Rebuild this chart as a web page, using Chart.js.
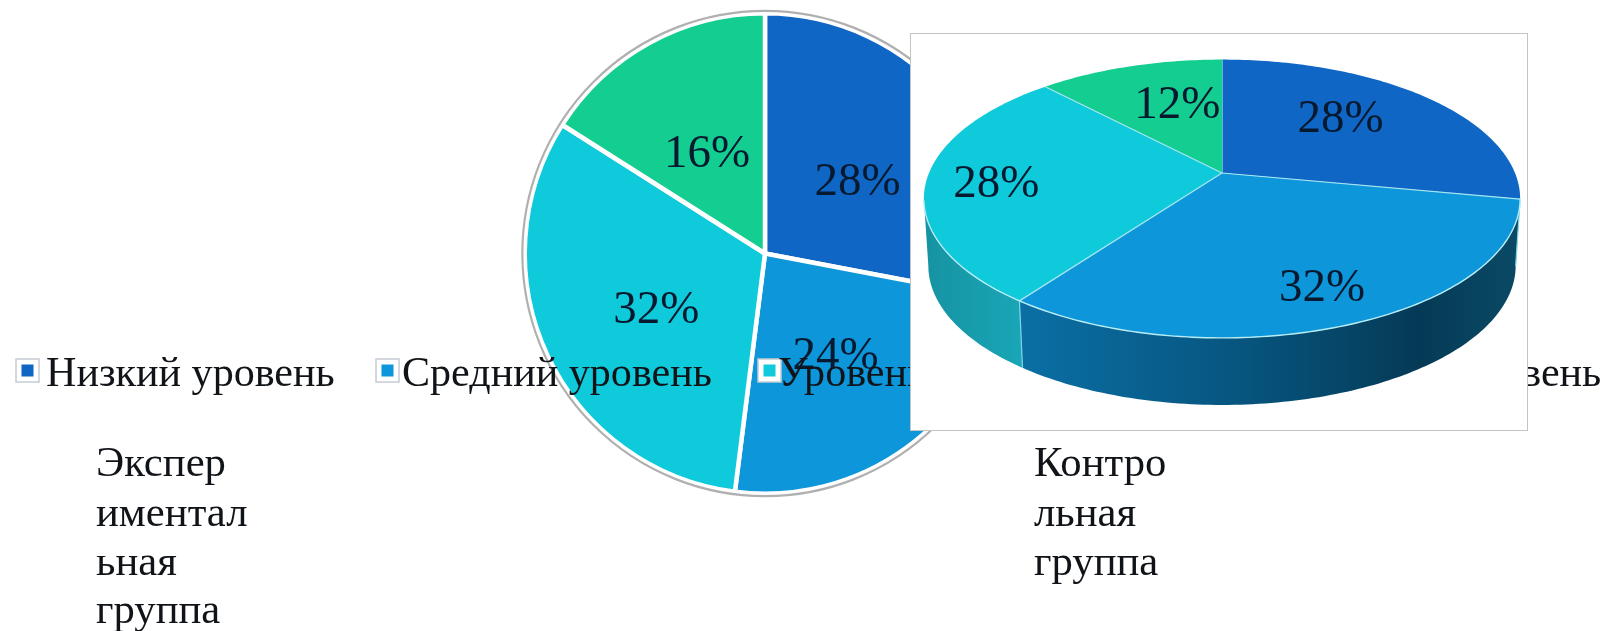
<!DOCTYPE html>
<html><head><meta charset="utf-8">
<script src="https://cdn.jsdelivr.net/npm/chart.js@4"></script>
<style>
html,body{margin:0;padding:0;background:#fff;width:1616px;height:631px;overflow:hidden}
#c1{position:absolute;left:0;top:0;filter:blur(.7px)}
#box{position:absolute;left:910px;top:33px;width:616px;height:396px;background:#fff;border:1px solid #c4c4c4;overflow:hidden}
#c2{position:absolute;left:0;top:0;filter:blur(.7px)}
</style></head><body>
<canvas id="c1" width="1616" height="631"></canvas>
<div id="box"><canvas id="c2" width="616" height="396"></canvas></div>
<script>
const categories = ["Низкий уровень","Средний уровень","Уровень выше среднего","Высокий уровень"];
const experimentalValues = [28,24,32,16];
const controlValues = [28,32,28,12];
const experimentalTitle = ["Экспер","иментал","ьная","группа"];
const controlTitle = ["Контро","льная","группа"];
const sliceColors = ["#0f66c4","#0d96d9","#0fcadb","#13cd91"];

const serif = '"Liberation Serif", serif';
const labelInk = "#07192e";

const flatPiePlugin = {
  id:"flatPie",
  afterDatasetsDraw(chart){
    const c = chart.ctx, first = chart.getDatasetMeta(0).data[0];
    c.save();
    c.beginPath(); c.arc(first.x,first.y,first.outerRadius+2.4,0,Math.PI*2);
    c.strokeStyle="#b0b0b0"; c.lineWidth=2.2; c.stroke();
    c.font='47px '+serif; c.fillStyle=labelInk; c.textAlign="center"; c.textBaseline="middle";
    chart.getDatasetMeta(0).data.forEach((a,i)=>{
      const m=(a.startAngle+a.endAngle)/2, r=a.outerRadius*.5;
      c.fillText(experimentalValues[i]+"%",a.x+Math.cos(m)*r,a.y+Math.sin(m)*r+6);
    });
    // legend
    const markers=[16,376,758,1254], texts=[46,402,778,1286];
    c.textAlign="left"; c.textBaseline="alphabetic"; c.font='42.1px '+serif;
    categories.forEach((t,i)=>{
      const x=markers[i], y=359;
      c.fillStyle="#fff"; c.fillRect(x,y,23,23);
      c.strokeStyle="#c4ccd4"; c.lineWidth=1.5; c.strokeRect(x,y,23,23);
      c.fillStyle=sliceColors[i]; c.fillRect(x+5.5,y+5.5,12,12);
      c.fillStyle="#101418"; c.fillText(t,texts[i],386);
    });
    // group titles
    const baselines=[476,526,575,623];
    c.font='42.7px '+serif;
    experimentalTitle.forEach((t,i)=>c.fillText(t,96,baselines[i]));
    controlTitle.forEach((t,i)=>c.fillText(t,1034,baselines[i]));
    c.restore();
  }
};

const tilt = {hx:311,hy:139,a:293,b:134.4,k:.185,depth:67,narrow:.985};
function proj(ang,r,drop){
  const u=Math.cos(ang)*r, v=Math.sin(ang)*r, w=1-tilt.k*v, s=drop?tilt.narrow:1;
  return [tilt.hx+tilt.a*u/w*s, tilt.hy+tilt.b*v/w+(drop?tilt.depth:0)];
}
function wallFill(c,i){
  if(i===1){
    const g=c.createLinearGradient(100,0,610,0);
    g.addColorStop(0,"#0b70a6");g.addColorStop(.45,"#07557f");g.addColorStop(.8,"#053a56");g.addColorStop(1,"#0a4a66");
    return g;
  }
  if(i===2){
    const g=c.createLinearGradient(0,0,110,0);
    g.addColorStop(0,"#1590a0");g.addColorStop(1,"#19a6b6");
    return g;
  }
  return sliceColors[i];
}
const tiltedPiePlugin = {
  id:"tiltedPie",
  beforeDatasetsDraw(chart){
    const arcs=chart.getDatasetMeta(0).data, c=chart.ctx, step=Math.PI/180;
    const lo=Math.asin(tilt.k), hi=Math.PI-lo;
    c.save();
    // side wall
    arcs.forEach((a,i)=>{
      const s=Math.max(a.startAngle,lo), e=Math.min(a.endAngle,hi);
      if(e<=s) return;
      c.beginPath();
      for(let t=s;t<e;t+=step){const p=proj(t,1,false);c.lineTo(p[0],p[1]);}
      let p=proj(e,1,false);c.lineTo(p[0],p[1]);
      p=proj(e,1,true);c.lineTo(p[0],p[1]);
      for(let t=e;t>s;t-=step){const q=proj(t,1,true);c.lineTo(q[0],q[1]);}
      p=proj(s,1,true);c.lineTo(p[0],p[1]);
      c.closePath(); c.fillStyle=wallFill(c,i); c.fill();
      if(s===a.startAngle){
        const m=proj(s,1,false), n=proj(s,1,true);
        c.beginPath();c.moveTo(m[0],m[1]);c.lineTo(n[0],n[1]);
        c.strokeStyle="#7fd3e6";c.lineWidth=1.2;c.stroke();
      }
    });
    // top face
    arcs.forEach((a,i)=>{
      c.beginPath(); c.moveTo(tilt.hx,tilt.hy);
      for(let t=a.startAngle;t<a.endAngle;t+=step){const p=proj(t,1,false);c.lineTo(p[0],p[1]);}
      const p=proj(a.endAngle,1,false);c.lineTo(p[0],p[1]);
      c.closePath(); c.fillStyle=sliceColors[i]; c.fill();
      c.strokeStyle="#a6e6f2"; c.lineWidth=1.2; c.lineJoin="round";
      c.beginPath(); c.moveTo(tilt.hx,tilt.hy);
      const q=proj(a.startAngle,1,false); c.lineTo(q[0],q[1]); c.stroke();
    });
    // bright rim
    c.beginPath();
    for(let t=lo;t<=hi;t+=step){const p=proj(t,1,false);c.lineTo(p[0],p[1]);}
    c.strokeStyle="#b8edf5"; c.lineWidth=1.4; c.stroke();
    // labels
    const nudges=[[-8,-5],[28,32],[-49,7],[14,1]];
    c.font='47px '+serif; c.fillStyle=labelInk; c.textAlign="center"; c.textBaseline="middle";
    arcs.forEach((a,i)=>{
      const p=proj((a.startAngle+a.endAngle)/2,.6,false);
      c.fillText(controlValues[i]+"%",p[0]+nudges[i][0],p[1]+nudges[i][1]);
    });
    c.restore();
    return false;
  }
};

const base = {responsive:false,animation:false,events:[],
  plugins:{legend:{display:false},tooltip:{enabled:false},title:{display:false}}};

new Chart(document.getElementById("c1"),{
  type:"pie",
  data:{labels:categories,datasets:[{data:experimentalValues,backgroundColor:sliceColors,borderColor:"#fff",borderWidth:4.5}]},
  options:{...base,layout:{padding:{left:522.5,right:608.5,top:11,bottom:135}}},
  plugins:[flatPiePlugin]
});
new Chart(document.getElementById("c2"),{
  type:"pie",
  data:{labels:categories,datasets:[{data:controlValues,backgroundColor:sliceColors,borderWidth:0}]},
  options:base,
  plugins:[tiltedPiePlugin]
});
</script>
</body></html>
